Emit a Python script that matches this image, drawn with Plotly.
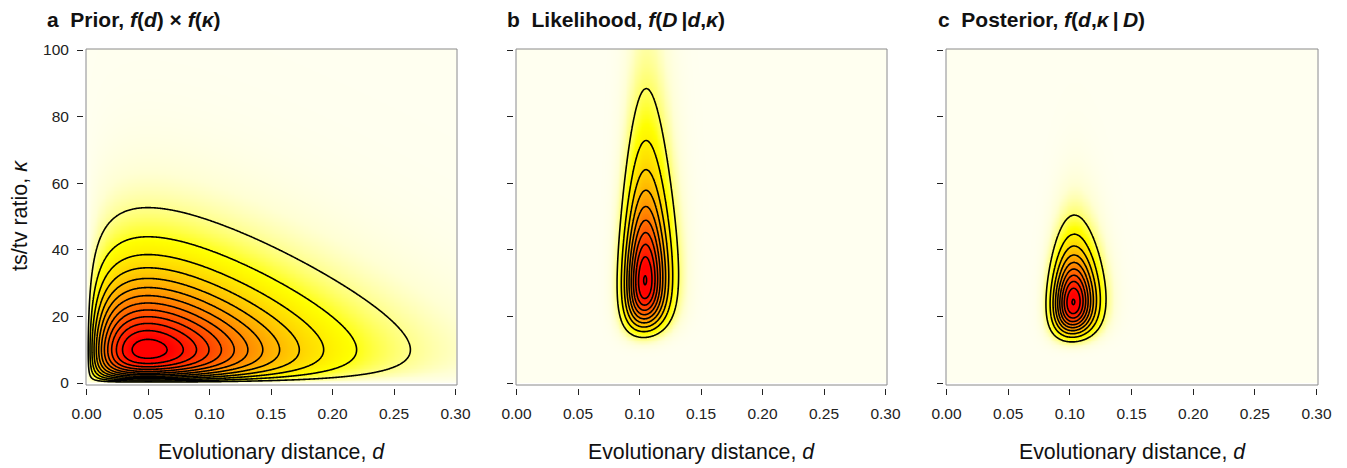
import math
import numpy as np
import plotly.graph_objects as go

# Prior: d ~ Gamma(shape, rate), kappa ~ Gamma(shape, rate)
prior_d_shape = 2.0
prior_d_rate = 20.0
prior_k_shape = 2.0
prior_k_rate = 0.1
# Data D: aligned sites, transitions, transversions (K80 model)
n_sites = 948
n_transitions = 84
n_transversions = 6
# contour levels
prior_level_step = 0.02           # absolute density units
lik_level_fraction = 1 / 10.05     # fraction of the maximum
post_level_fraction = 1 / 10.05
# axes
x_ticks = [0.00, 0.05, 0.10, 0.15, 0.20, 0.25, 0.30]
x_tick_labels = ["0.00", "0.05", "0.10", "0.15", "0.20", "0.25", "0.30"]
y_ticks = [0, 20, 40, 60, 80, 100]
y_tick_labels = ["0", "20", "40", "60", "80", "100"]
panel_titles = [
    "<b>a\u00a0\u00a0Prior, <i>f</i>(<i>d</i>) × <i>f</i>(<i>κ</i>)</b>",
    "<b>b\u00a0\u00a0Likelihood, <i>f</i>(<i>D</i>\u2009|<i>d</i>,<i>κ</i>)</b>",
    "<b>c\u00a0\u00a0Posterior, <i>f</i>(<i>d</i>,<i>κ</i>\u2009|\u2009<i>D</i>)</b>",
]
x_title = "Evolutionary distance, <i>d</i>"
y_title = "ts/tv ratio, <i>κ</i>"

# ---------------- surfaces ----------------
d = np.linspace(0.0, 0.301, 420)
k = np.linspace(0.0, 100.5, 420)
D, K = np.meshgrid(d, k)


def gamma_pdf(x, a, r):
    return r ** a / math.gamma(a) * x ** (a - 1) * np.exp(-r * x)


prior = gamma_pdf(D, prior_d_shape, prior_d_rate) * gamma_pdf(K, prior_k_shape, prior_k_rate)

with np.errstate(divide="ignore", invalid="ignore"):
    b = D / (K + 2.0)
    e4 = np.exp(-4 * b)
    e2 = np.exp(-2 * (K + 1) * b)
    p_ts = 0.25 + 0.25 * e4 - 0.5 * e2
    p_tv = 0.5 - 0.5 * e4
    p_0 = 1 - p_ts - p_tv
    logL = ((n_sites - n_transitions - n_transversions) * np.log(p_0)
            + n_transitions * np.log(p_ts) + n_transversions * np.log(p_tv))
logL = np.where(np.isfinite(logL), logL, -np.inf)
lik = np.exp(logL - logL.max())
post = prior * lik
post = post / post.max()

heat = [[0.0, "rgb(255,255,240)"], [0.03, "rgb(255,255,212)"], [0.16, "rgb(255,255,0)"],
        [0.95, "rgb(255,0,0)"], [1.0, "rgb(255,0,0)"]]

W, H = 1347, 468
boxes = [(86, 457), (516, 887), (946, 1318)]
top_px, bot_px = 49, 385
gap = 3
ydom = [1 - bot_px / H, 1 - top_px / H]
font = "Liberation Sans, Arial, Helvetica, sans-serif"

fig = go.Figure()
surfaces = [
    (prior, prior_level_step, prior_level_step * math.floor(prior.max() / prior_level_step)),
    (lik, lik_level_fraction, 1.0),
    (post, post_level_fraction, 1.0),
]
for i, (Z, step, end) in enumerate(surfaces):
    sfx = "" if i == 0 else str(i + 1)
    fig.add_trace(go.Contour(
        x=d, y=k, z=Z, xaxis="x" + sfx, yaxis="y" + sfx,
        zmin=0, zmax=float(Z.max()), colorscale=heat, showscale=False,
        contours=dict(coloring="heatmap", start=step, end=end, size=step, showlabels=False),
        line=dict(color="black", width=1.6, smoothing=1),
        hoverinfo="skip",
    ))

layout = dict(
    width=W, height=H, margin=dict(l=0, r=0, t=0, b=0, autoexpand=False),
    paper_bgcolor="white", plot_bgcolor="white", showlegend=False,
    font=dict(family=font, color="#1a1a1a"),
)
shapes = []
for i, (x0, x1) in enumerate(boxes):
    sfx = "" if i == 0 else str(i + 1)
    layout["xaxis" + sfx] = dict(
        domain=[x0 / W, x1 / W], range=[-0.0004, 0.3012], anchor="free",
        position=ydom[0] - gap / H, automargin=False,
        tickmode="array", tickvals=x_ticks, ticktext=x_tick_labels,
        ticks="outside", ticklen=6, tickwidth=1.2, tickcolor="#222",
        showline=False, showgrid=False, zeroline=False,
        tickfont=dict(size=15.5, color="#222"), ticklabelstandoff=5,
    )
    layout["yaxis" + sfx] = dict(
        domain=ydom, range=[-0.6, 100.3], anchor="free",
        position=(x0 - gap) / W, automargin=False,
        tickmode="array", tickvals=y_ticks,
        ticktext=y_tick_labels if i == 0 else [""] * len(y_ticks),
        ticks="outside", ticklen=6, tickwidth=1.2, tickcolor="#222",
        showline=False, showgrid=False, zeroline=False,
        tickfont=dict(size=15.5, color="#222"), ticklabelstandoff=5,
    )
    shapes.append(dict(type="rect", xref="paper", yref="paper",
                       x0=x0 / W, x1=x1 / W, y0=ydom[0], y1=ydom[1],
                       line=dict(color="#8a8a8a", width=1), layer="above"))
layout["shapes"] = shapes
fig.update_layout(**layout)

ann = []
title_x = [45, 505, 936]
for i, (x0, x1) in enumerate(boxes):
    ann.append(dict(text=panel_titles[i], x=title_x[i] / W, y=1 - 20 / H, xref="paper", yref="paper",
                    xanchor="left", yanchor="middle", showarrow=False,
                    font=dict(size=21, color="#111", family=font)))
    ann.append(dict(text=x_title, x=(x0 + x1) / 2 / W, y=1 - 452 / H, xref="paper", yref="paper",
                    xanchor="center", yanchor="middle", showarrow=False,
                    font=dict(size=21.3, color="#111", family=font)))
ann.append(dict(text=y_title, x=20 / W, y=1 - 216 / H, xref="paper", yref="paper",
                xanchor="center", yanchor="middle", textangle=-90, showarrow=False,
                font=dict(size=21.5, color="#111", family=font)))
fig.update_layout(annotations=ann)

fig.write_html(
    "out.html",
    config={"displayModeBar": False},
    post_script="document.body.style.margin='0';document.body.style.overflow='hidden';",
)
